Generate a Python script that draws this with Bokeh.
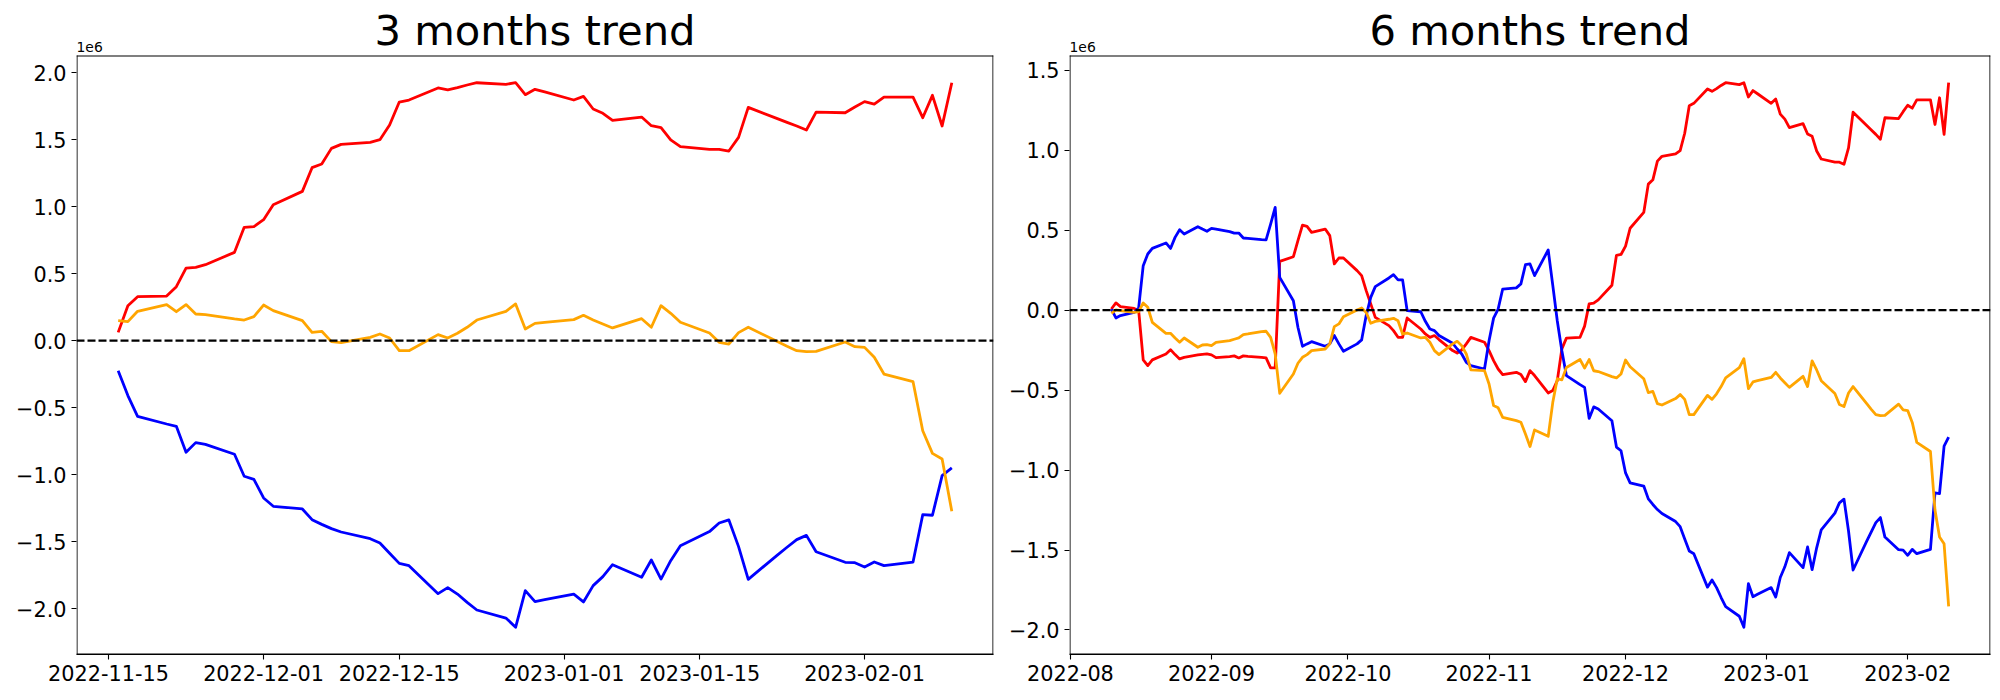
import pandas as pd
from bokeh.plotting import figure
from bokeh.layouts import row
from bokeh.models import (FixedTicker, DatetimeTickFormatter, CustomJSTickFormatter,
                          Span, Label, Range1d)
from bokeh.embed import file_html
from bokeh.resources import INLINE

FONT = "DejaVu Sans"
COLORS = {"red": "#ff0000", "blue": "#0000ff", "orange": "#ffa500"}

# ---------------- 3 months panel (values in units of 1e6) ----------------
dates_3m = pd.bdate_range("2022-11-16", "2023-02-10")
red_3m = [0.062, 0.261, 0.328,
          0.333, 0.403, 0.542, 0.547, 0.567,
          0.659, 0.846, 0.851, 0.903, 1.015,
          1.114, 1.291, 1.318, 1.435, 1.465,
          1.480, 1.500, 1.609, 1.781, 1.796,
          1.886, 1.871, 1.888, 1.908, 1.925,
          1.913, 1.925, 1.836, 1.876, 1.856,
          1.796, 1.823, 1.729, 1.697, 1.644,
          1.669, 1.604, 1.590, 1.498, 1.448,
          1.428, 1.428, 1.415, 1.517, 1.741,
          1.657, 1.629, 1.602, 1.572, 1.706,
          1.701, 1.744, 1.784, 1.766, 1.818,
          1.818, 1.664, 1.831, 1.602, 1.925]
blue_3m = [-0.224, -0.410, -0.565,
           -0.622, -0.639, -0.833, -0.761, -0.774,
           -0.848, -1.012, -1.035, -1.174, -1.236,
           -1.256, -1.336, -1.371, -1.403, -1.428,
           -1.478, -1.510, -1.587, -1.662, -1.679,
           -1.888, -1.843, -1.891, -1.953, -2.010,
           -2.070, -2.139, -1.866, -1.948, -1.933,
           -1.891, -1.950, -1.828, -1.761, -1.672,
           -1.766, -1.637, -1.779, -1.642, -1.530,
           -1.425, -1.361, -1.338, -1.537, -1.781,
           -1.600, -1.542, -1.485, -1.453, -1.575,
           -1.654, -1.657, -1.689, -1.652, -1.679,
           -1.652, -1.299, -1.303, -1.007, -0.950]
orange_3m = [0.149, 0.142, 0.219,
             0.269, 0.216, 0.269, 0.199, 0.194,
             0.162, 0.154, 0.179, 0.266, 0.224,
             0.149, 0.062, 0.070, -0.007, -0.015,
             0.025, 0.050, 0.020, -0.075, -0.075,
             0.045, 0.020, 0.055, 0.100, 0.154,
             0.219, 0.274, 0.087, 0.129, 0.137,
             0.157, 0.189, 0.154, 0.124, 0.095,
             0.164, 0.100, 0.261, 0.204, 0.137,
             0.057, -0.012, -0.025, 0.060, 0.100,
             -0.007, -0.042, -0.075, -0.082, -0.080,
             -0.010, -0.045, -0.050, -0.124, -0.249,
             -0.306, -0.672, -0.841, -0.883, -1.274]
ticks_3m = ["2022-11-15", "2022-12-01", "2022-12-15", "2023-01-01", "2023-01-15", "2023-02-01"]

# ---------------- 6 months panel ----------------
dates_6m = pd.bdate_range("2022-08-10", "2023-02-10")
red_6m_early = [0.007, 0.045, 0.022,
                0.011, -0.003, -0.311, -0.347, -0.311,
                -0.274, -0.247, -0.278, -0.305, -0.295,
                -0.280, -0.276, -0.274, -0.280, -0.297,
                -0.291, -0.286, -0.299, -0.286, -0.289,
                -0.295, -0.299, -0.361, -0.361, 0.305,
                0.334, 0.434, 0.532, 0.524, 0.486,
                0.507, 0.466, 0.289, 0.326, 0.326,
                0.247, 0.216, 0.122, 0.039, -0.045,
                -0.097, -0.128, -0.170, -0.170, -0.049,
                -0.118, -0.149, -0.170, -0.159, -0.184,
                -0.253, -0.268, -0.249, -0.211, -0.170,
                -0.201, -0.253, -0.316, -0.368, -0.403,
                -0.389, -0.403, -0.447, -0.378, -0.409,
                -0.518, -0.503]
red_6m_late = [-0.441, -0.242, -0.175,
               -0.170, -0.100, 0.039, 0.044, 0.064,
               0.156, 0.343, 0.348, 0.400, 0.512,
               0.611, 0.788, 0.815, 0.932, 0.962,
               0.977, 0.997, 1.106, 1.278, 1.293,
               1.383, 1.368, 1.385, 1.405, 1.422,
               1.410, 1.422, 1.333, 1.373, 1.353,
               1.293, 1.320, 1.226, 1.194, 1.141,
               1.166, 1.101, 1.087, 0.995, 0.945,
               0.925, 0.925, 0.912, 1.014, 1.238,
               1.154, 1.126, 1.099, 1.069, 1.203,
               1.198, 1.241, 1.281, 1.263, 1.315,
               1.315, 1.161, 1.328, 1.099, 1.422]
blue_6m_early = [0.007, -0.049, -0.034,
                 -0.014, 0.014, 0.278, 0.351, 0.386,
                 0.420, 0.386, 0.455, 0.503, 0.476,
                 0.522, 0.507, 0.493, 0.511, 0.507,
                 0.491, 0.482, 0.482, 0.451, 0.449,
                 0.441, 0.439, 0.538, 0.643, 0.205,
                 0.059, -0.107, -0.226, -0.211, -0.197,
                 -0.226, -0.211, -0.159, -0.211, -0.257,
                 -0.211, -0.186, -0.034, 0.080, 0.147,
                 0.201, 0.222, 0.189, 0.189, -0.003,
                 -0.010, -0.070, -0.118, -0.128, -0.159,
                 -0.207, -0.243, -0.274, -0.326, -0.347,
                 -0.368, -0.191, -0.050, 0.007, 0.132,
                 0.139, 0.164, 0.284, 0.289, 0.216,
                 0.376, 0.156]
blue_6m_late = [-0.068, -0.254, -0.409,
                -0.466, -0.483, -0.677, -0.605, -0.618,
                -0.692, -0.856, -0.879, -1.018, -1.080,
                -1.100, -1.180, -1.215, -1.247, -1.272,
                -1.322, -1.354, -1.431, -1.506, -1.523,
                -1.732, -1.687, -1.735, -1.797, -1.854,
                -1.914, -1.983, -1.710, -1.792, -1.777,
                -1.735, -1.794, -1.672, -1.605, -1.516,
                -1.610, -1.481, -1.623, -1.486, -1.374,
                -1.269, -1.205, -1.182, -1.381, -1.625,
                -1.444, -1.386, -1.329, -1.297, -1.419,
                -1.498, -1.501, -1.533, -1.496, -1.523,
                -1.496, -1.143, -1.147, -0.851, -0.794]
orange_6m_early = [-0.020, 0.001, -0.003,
                   -0.014, -0.009, 0.045, 0.018, -0.076,
                   -0.145, -0.145, -0.174, -0.201, -0.174,
                   -0.232, -0.218, -0.216, -0.222, -0.201,
                   -0.191, -0.182, -0.174, -0.153, -0.149,
                   -0.134, -0.132, -0.170, -0.274, -0.520,
                   -0.399, -0.332, -0.295, -0.278, -0.253,
                   -0.243, -0.211, -0.103, -0.086, -0.041,
                   0.001, 0.014, -0.014, -0.082, -0.070,
                   -0.057, -0.051, -0.066, -0.149, -0.143,
                   -0.174, -0.170, -0.201, -0.253, -0.278,
                   -0.211, -0.195, -0.222, -0.274, -0.374,
                   -0.378, -0.462, -0.597, -0.611, -0.670,
                   -0.691, -0.701, -0.774, -0.853, -0.749,
                   -0.789, -0.578]
orange_6m_late = [-0.429, -0.436, -0.359,
                  -0.309, -0.362, -0.309, -0.379, -0.384,
                  -0.416, -0.424, -0.399, -0.312, -0.354,
                  -0.429, -0.516, -0.508, -0.585, -0.593,
                  -0.553, -0.528, -0.558, -0.653, -0.653,
                  -0.533, -0.558, -0.523, -0.478, -0.424,
                  -0.359, -0.304, -0.491, -0.449, -0.441,
                  -0.421, -0.389, -0.424, -0.454, -0.483,
                  -0.414, -0.478, -0.317, -0.374, -0.441,
                  -0.521, -0.590, -0.603, -0.518, -0.478,
                  -0.585, -0.620, -0.653, -0.660, -0.658,
                  -0.588, -0.623, -0.628, -0.702, -0.827,
                  -0.884, -1.250, -1.419, -1.461, -1.852]
red_6m = red_6m_early + red_6m_late
blue_6m = blue_6m_early + blue_6m_late
orange_6m = orange_6m_early + orange_6m_late
ticks_6m = ["2022-08-01", "2022-09-01", "2022-10-01", "2022-11-01",
            "2022-12-01", "2023-01-01", "2023-02-01"]

y_ticks_3m = [-2.0, -1.5, -1.0, -0.5, 0.0, 0.5, 1.0, 1.5, 2.0]
y_ticks_6m = [-2.0, -1.5, -1.0, -0.5, 0.0, 0.5, 1.0, 1.5]

HEIGHT = 698
BOTTOM = 44          # space for the date labels
BOX_TOP_PX = 55      # axes box top, measured from the top of the canvas
TITLE_SIZE = 41.7
OFFSET_SIZE = 13.9


def ms(d):
    return pd.Timestamp(d).value / 1e6


def panel(title, dates, series, xticks, xfmt, yticks, width, bl, br):
    xs = [ms(d) for d in dates]
    x0, x1 = min(xs), max(xs)
    xp = 0.05 * (x1 - x0)
    xa, xb = x0 - xp, x1 + xp
    allv = [v for _, s in series for v in s]
    y0, y1 = min(allv), max(allv)
    yp = 0.05 * (y1 - y0)
    ya, yb = y0 - yp, y1 + yp                      # the axes box
    fh = HEIGHT - BOTTOM                            # frame reaches the canvas top
    fw = width - bl - br
    box_h = fh - BOX_TOP_PX
    ytop = ya + (yb - ya) * fh / box_h              # room above the box for titles
    dpx_x = (xb - xa) / fw
    dpx_y = (ytop - ya) / fh

    def y_at(px):                                   # data value at a pixel row
        return ytop - px * dpx_y

    p = figure(width=width, height=HEIGHT, x_axis_type="datetime",
               output_backend="svg", toolbar_location=None, title_location=None,
               x_range=Range1d(xa, xb), y_range=Range1d(ya, ytop),
               min_border_left=bl, min_border_right=br,
               min_border_top=0, min_border_bottom=BOTTOM)
    p.xgrid.visible = False
    p.ygrid.visible = False
    p.outline_line_color = None
    p.background_fill_color = "white"
    p.border_fill_color = "white"

    for name, s in series:
        p.line(xs, s, line_color=COLORS[name], line_width=2.8, line_join="round")

    p.add_layout(Span(location=0, dimension="width", line_color="black",
                      line_dash="8 3", line_width=2.1))

    # axes box (spines), inset half a pixel so they stay inside the frame
    bl_x, br_x = xa + 0.5 * dpx_x, xb - 0.5 * dpx_x
    bb_y, bt_y = ya + 0.5 * dpx_y, yb - 0.5 * dpx_y
    p.segment(x0=[bl_x, br_x, bl_x, bl_x], y0=[bb_y, bb_y, bt_y, bb_y],
              x1=[bl_x, br_x, br_x, br_x], y1=[bt_y, bt_y, bt_y, bb_y],
              line_color="black", line_width=1.1, line_cap="square")

    p.xaxis.ticker = FixedTicker(ticks=[ms(t) for t in xticks], minor_ticks=[])
    p.xaxis.formatter = DatetimeTickFormatter(
        microseconds=xfmt, milliseconds=xfmt, seconds=xfmt, minsec=xfmt,
        minutes=xfmt, hourmin=xfmt, hours=xfmt, days=xfmt, months=xfmt, years=xfmt)
    p.yaxis.ticker = FixedTicker(ticks=yticks, minor_ticks=[])
    p.yaxis.formatter = CustomJSTickFormatter(
        code="return tick.toFixed(1).replace('-', '\\u2212');")
    p.axis.major_label_text_font = FONT
    p.axis.major_label_text_font_style = "normal"
    p.axis.major_label_text_font_size = "20.8px"
    p.axis.major_label_text_color = "black"
    p.axis.major_tick_out = 5
    p.axis.major_tick_in = 0
    p.axis.minor_tick_out = 0
    p.axis.minor_tick_in = 0
    p.axis.major_tick_line_width = 1.1
    p.axis.major_tick_line_color = "black"
    p.axis.major_label_standoff = 5
    p.xaxis.axis_line_color = "black"
    p.xaxis.axis_line_width = 1.1
    p.yaxis.axis_line_color = None

    # the text anchor lands near the middle of the digits, so lift by 0.4 em
    title_base = BOX_TOP_PX - 8.3
    offset_base = BOX_TOP_PX - 3.3
    p.add_layout(Label(x=(xa + xb) / 2, y=y_at(title_base - 0.4 * TITLE_SIZE),
                       text=title, text_align="center", text_baseline="alphabetic",
                       text_font=FONT, text_font_size=f"{TITLE_SIZE}px", text_color="black"))
    p.add_layout(Label(x=xa, y=y_at(offset_base - 0.4 * OFFSET_SIZE),
                       text="1e6", text_align="left", text_baseline="alphabetic",
                       text_font=FONT, text_font_size=f"{OFFSET_SIZE}px", text_color="black"))
    return p


p1 = panel("3 months trend", dates_3m,
           [("red", red_3m), ("blue", blue_3m), ("orange", orange_3m)],
           ticks_3m, "%Y-%m-%d", y_ticks_3m, width=1000, bl=76, br=7)
p2 = panel("6 months trend", dates_6m,
           [("red", red_6m), ("blue", blue_6m), ("orange", orange_6m)],
           ticks_6m, "%Y-%m", y_ticks_6m, width=1000, bl=69, br=10)

layout = row(p1, p2)
open("out.html", "w").write(file_html(layout, INLINE))
